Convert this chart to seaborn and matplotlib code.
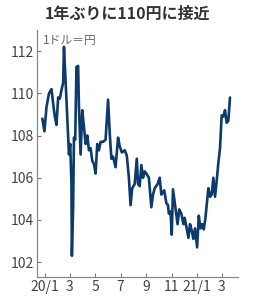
import pandas as pd
import numpy as np
import matplotlib
matplotlib.use("Agg")
import matplotlib.pyplot as plt
import seaborn as sns

# Values (yen per dollar)
dates = [
    "2019-12-26", "2019-12-31", "2020-01-05", "2020-01-11", "2020-01-17", "2020-01-22",
    "2020-01-25", "2020-01-29", "2020-02-02", "2020-02-06", "2020-02-10", "2020-02-14",
    "2020-02-16", "2020-02-20", "2020-02-28", "2020-03-02", "2020-03-05", "2020-03-06",
    "2020-03-09", "2020-03-11", "2020-03-14", "2020-03-17", "2020-03-21", "2020-03-23",
    "2020-03-27", "2020-03-31", "2020-04-04", "2020-04-08", "2020-04-12", "2020-04-16",
    "2020-04-20", "2020-04-24", "2020-04-28", "2020-05-02", "2020-05-06", "2020-05-10",
    "2020-05-14", "2020-05-20", "2020-05-26", "2020-06-01", "2020-06-05", "2020-06-09",
    "2020-06-13", "2020-06-19", "2020-06-25", "2020-06-29", "2020-07-04", "2020-07-11",
    "2020-07-16", "2020-07-21", "2020-07-25", "2020-07-29", "2020-08-04", "2020-08-09",
    "2020-08-12", "2020-08-16", "2020-08-20", "2020-08-24", "2020-08-28", "2020-09-01",
    "2020-09-07", "2020-09-13", "2020-09-17", "2020-09-21", "2020-09-28", "2020-10-03",
    "2020-10-07", "2020-10-14", "2020-10-19", "2020-10-23", "2020-10-25", "2020-10-29",
    "2020-11-01", "2020-11-04", "2020-11-11", "2020-11-15", "2020-11-19", "2020-11-24",
    "2020-11-29", "2020-12-02", "2020-12-07", "2020-12-11", "2020-12-15", "2020-12-19",
    "2020-12-23", "2020-12-27", "2021-01-01", "2021-01-05", "2021-01-09", "2021-01-13",
    "2021-01-17", "2021-01-21", "2021-01-25", "2021-01-28", "2021-02-01", "2021-02-05",
    "2021-02-09", "2021-02-13", "2021-02-17", "2021-02-21", "2021-02-25", "2021-03-01",
    "2021-03-05", "2021-03-09", "2021-03-13", "2021-03-17", "2021-03-21",
]
yen = [
    108.8, 108.2, 109.35, 110.0, 110.2, 109.35,
    108.9, 108.5, 109.8, 109.75, 110.15, 110.5,
    112.2, 110.55, 107.1, 107.6, 105.7, 102.3,
    104.6, 107.9, 107.8, 111.25, 111.3, 109.35,
    107.1, 109.2, 108.4, 107.6, 108.0, 107.3,
    107.4, 106.8, 106.65, 106.2, 107.6, 107.3,
    107.7, 107.7, 107.8, 109.7, 108.1, 106.9,
    107.0, 106.5, 107.9, 107.5, 107.2, 107.3,
    107.05, 106.0, 104.7, 105.5, 105.7, 106.9,
    105.7, 105.6, 106.6, 106.0, 106.3, 106.2,
    106.0, 104.6, 105.2, 105.5, 105.7, 106.0,
    105.2, 105.4, 104.8, 104.7, 104.3, 104.4,
    103.3, 105.45, 104.4, 103.8, 104.5, 104.3,
    103.8, 104.1, 103.6, 103.15, 103.8, 103.5,
    103.1, 103.6, 102.7, 104.2, 103.6, 103.8,
    103.55, 104.1, 104.9, 105.5, 105.1, 105.2,
    106.0, 105.1, 105.85, 106.7, 107.4, 108.95,
    108.9, 109.2, 108.6, 108.7, 109.8,
]

tick_dates = ["2020-01-01", "2020-03-01", "2020-05-01", "2020-07-01", "2020-09-01",
              "2020-11-01", "2021-01-01", "2021-03-01"]
tick_labels = ["20/1", "3", "5", "7", "9", "11", "21/1", "3"]
y_ticks = [102, 104, 106, 108, 110, 112]

title = "1年ぶりに110円に接近"
unit = "1ドル＝円"

sns.set_style("ticks")
plt.rcParams['font.family'] = ['Noto Sans CJK JP', 'DejaVu Sans']

df = pd.DataFrame({"date": pd.to_datetime(dates), "yen": yen})

fig = plt.figure(figsize=(2.6, 3.0), dpi=100)
ax = fig.add_axes([0.142, 0.077, 0.773, 0.823])

sns.lineplot(data=df, x="date", y="yen", ax=ax, color="#0c3a6b", linewidth=1.9)

ax.set_xlim(pd.Timestamp("2019-12-13"), pd.Timestamp("2021-04-09"))
ax.set_ylim(101.3, 113.0)
ax.set_xticks(pd.to_datetime(tick_dates))
ax.set_xticklabels(tick_labels)
ax.set_yticks(y_ticks)
ax.set_xlabel("")
ax.set_ylabel("")

# narrow digits like the original
tick_font = ['Liberation Sans Narrow', 'Noto Sans CJK JP', 'DejaVu Sans']
for lab in ax.get_xticklabels() + ax.get_yticklabels():
    lab.set_family(tick_font)
    lab.set_fontsize(10)
    lab.set_color("#444444")

ax.tick_params(direction="in", length=3, width=0.8, color="#777777", pad=2)
sns.despine(ax=ax)
for s in ["left", "bottom"]:
    ax.spines[s].set_color("#888888")
    ax.spines[s].set_linewidth(0.9)

ax.text(0.03, 0.985, unit, transform=ax.transAxes, ha="left", va="top",
        fontsize=8.5, color="#666666")
fig.text(0.49, 0.955, title, ha="center", va="center", fontsize=11.5,
         fontweight="bold", color="#333333")

fig.savefig("out.png", dpi=100)
plt.close()
